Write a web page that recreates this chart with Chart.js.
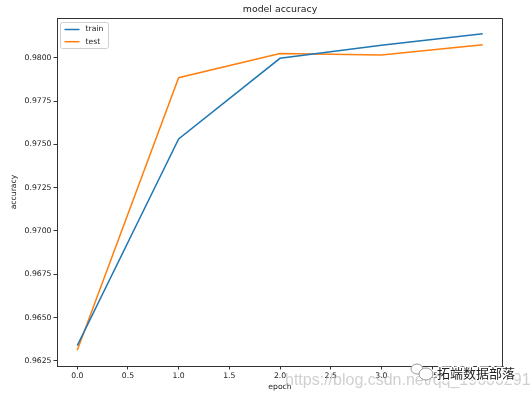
<!DOCTYPE html>
<html>
<head>
<meta charset="utf-8">
<script src="https://cdn.jsdelivr.net/npm/chart.js@4/dist/chart.umd.min.js"></script>
<style>
html,body{margin:0;padding:0;background:#fff;}
#wrap{position:relative;width:532px;height:398px;}
</style>
</head>
<body>
<div id="wrap"><canvas id="c" width="532" height="398"></canvas></div>
<script>
const epochs = [0, 1, 2, 3, 4];
const trainAcc = [0.96338, 0.97531, 0.97997, 0.98073, 0.98139];
const testAcc = [0.96311, 0.97885, 0.98025, 0.98016, 0.98075];
const xTicks = [0.0, 0.5, 1.0, 1.5, 2.0, 2.5, 3.0, 3.5, 4.0];
const yTicks = [0.9625, 0.9650, 0.9675, 0.9700, 0.9725, 0.9750, 0.9775, 0.9800];
const seriesNames = ['train', 'test'];
const seriesColors = ['#1f77b4', '#ff7f0e'];
const titleText = 'model accuracy';
const xLabel = 'epoch';
const yLabel = 'accuracy';
const watermarkUrl = 'https://blog.csdn.net/qq_19600291';
const watermarkName = '拓端数据部落';

const FONT = 'DejaVu Sans';
const TXT = '#222';
const FS = 7.7;

function pts(ys){ return epochs.map((x,i)=>({x:x, y:ys[i]})); }

const boxPlugin = {
  id:'box',
  afterDatasetsDraw(chart){
    const a = chart.chartArea, ctx = chart.ctx;
    ctx.save();
    ctx.strokeStyle = '#333';
    ctx.lineWidth = 1;
    ctx.beginPath();
    ctx.moveTo(a.left, a.top + 0.5);
    ctx.lineTo(a.right - 0.5, a.top + 0.5);
    ctx.lineTo(a.right - 0.5, a.bottom);
    ctx.stroke();
    // title centred over the plot area
    ctx.font = '9.4px "' + FONT + '"';
    ctx.fillStyle = TXT;
    ctx.textAlign = 'center';
    ctx.textBaseline = 'middle';
    ctx.fillText(titleText, (a.left + a.right) / 2, a.top - 8.5);
    // legend inside plot (upper left)
    const x0 = a.left + 3.5, y0 = a.top + 4.5;
    const w = 48, h = 26;
    ctx.fillStyle = 'rgba(255,255,255,0.8)';
    ctx.strokeStyle = '#d0d0d0';
    ctx.beginPath();
    if (ctx.roundRect) ctx.roundRect(x0, y0, w, h, 2); else ctx.rect(x0, y0, w, h);
    ctx.fill(); ctx.stroke();
    ctx.font = FS + 'px "' + FONT + '"';
    ctx.textBaseline = 'middle';
    ctx.textAlign = 'left';
    chart.data.datasets.forEach((ds, i) => {
      const yy = y0 + 7 + i * 12.2;
      ctx.strokeStyle = ds.borderColor;
      ctx.lineWidth = 1.5;
      ctx.beginPath();
      ctx.moveTo(x0 + 4, yy); ctx.lineTo(x0 + 19, yy); ctx.stroke();
      ctx.fillStyle = TXT;
      ctx.fillText(ds.label, x0 + 25, yy);
    });
    ctx.restore();
  },
  afterDraw(chart){
    const ctx = chart.ctx;
    ctx.save();
    // watermark
    ctx.font = '16px "Liberation Sans"';
    ctx.fillStyle = 'rgba(170,170,170,0.55)';
    ctx.textBaseline = 'alphabetic';
    ctx.textAlign = 'left';
    ctx.fillText(watermarkUrl, 285, 385);
    // icon
    ctx.strokeStyle = '#999';
    ctx.lineWidth = 1;
    ctx.fillStyle = '#fff';
    ctx.beginPath(); ctx.ellipse(417, 369, 6, 5, 0, 0, Math.PI*2); ctx.fill(); ctx.stroke();
    ctx.beginPath(); ctx.ellipse(426, 374, 7, 6, 0, 0, Math.PI*2); ctx.fill(); ctx.stroke();
    ctx.font = '13px "Noto Sans CJK SC"';
    ctx.textBaseline = 'middle';
    ctx.lineWidth = 3;
    ctx.strokeStyle = '#fff';
    ctx.lineJoin = 'round';
    ctx.strokeText(watermarkName, 437, 373);
    ctx.fillStyle = '#222';
    ctx.fillText(watermarkName, 437, 373);
    ctx.restore();
  }
};

new Chart(document.getElementById('c'), {
  type: 'line',
  data: {
    datasets: [
      { label: seriesNames[0], data: pts(trainAcc), borderColor: seriesColors[0], backgroundColor: seriesColors[0], borderWidth: 1.5, pointRadius: 0, tension: 0, fill: false },
      { label: seriesNames[1], data: pts(testAcc), borderColor: seriesColors[1], backgroundColor: seriesColors[1], borderWidth: 1.5, pointRadius: 0, tension: 0, fill: false }
    ]
  },
  options: {
    responsive: false,
    animation: false,
    events: [],
    layout: { padding: { left: 0, right: 29, top: 18, bottom: 0 } },
    plugins: {
      legend: { display: false },
      tooltip: { enabled: false },
      title: { display: false }
    },
    scales: {
      x: {
        type: 'linear', min: -0.2, max: 4.2,
        afterBuildTicks: (s) => { s.ticks = xTicks.map(v => ({ value: v })); },
        afterFit: (s) => { s.height = 32; },
        ticks: { color: TXT, font: { family: FONT, size: FS }, padding: 2, maxRotation: 0, autoSkip: false,
                 callback: (v) => Number(v).toFixed(1) },
        grid: { drawOnChartArea: false, drawTicks: true, tickLength: 3.5, color: '#333' },
        border: { display: true, color: '#333', width: 1 },
        title: { display: true, text: xLabel, color: TXT, font: { family: FONT, size: FS }, padding: { top: 0, bottom: 6.5 } }
      },
      y: {
        type: 'linear', min: 0.96220, max: 0.98230,
        afterBuildTicks: (s) => { s.ticks = yTicks.map(v => ({ value: v })); },
        afterFit: (s) => { s.width = 57; },
        ticks: { color: TXT, font: { family: FONT, size: FS }, padding: 2, autoSkip: false,
                 callback: (v) => Number(v).toFixed(4) },
        grid: { drawOnChartArea: false, drawTicks: true, tickLength: 3.5, color: '#333' },
        border: { display: true, color: '#333', width: 1 },
        title: { display: true, text: yLabel, color: TXT, font: { family: FONT, size: FS }, padding: { top: 9.5, bottom: 0 } }
      }
    }
  },
  plugins: [boxPlugin]
});
</script>
</body>
</html>
